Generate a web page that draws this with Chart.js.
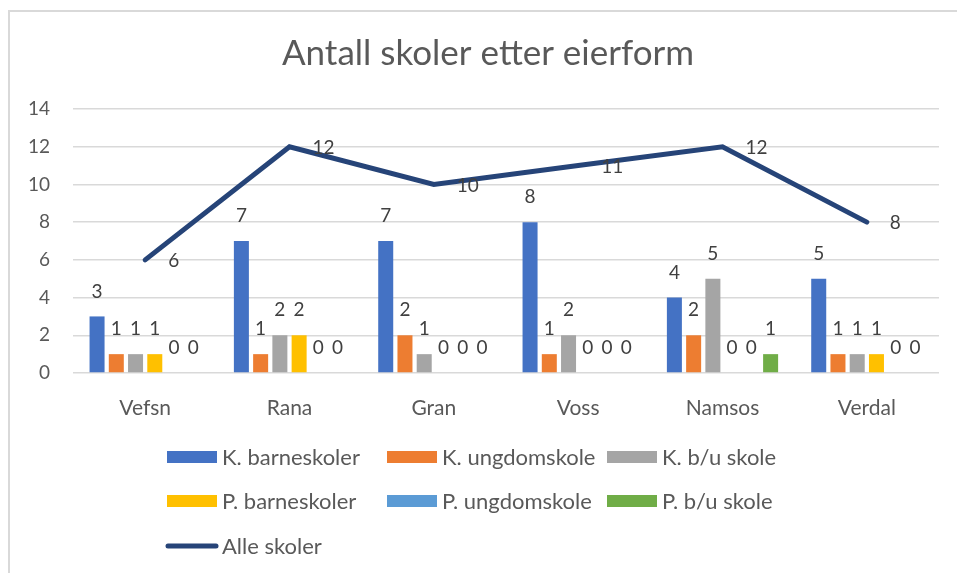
<!DOCTYPE html>
<html>
<head>
<meta charset="utf-8">
<script src="https://cdn.jsdelivr.net/npm/chart.js@4.4.0/dist/chart.umd.min.js"></script>
<style>
  body { margin: 0; background: #fff; overflow: hidden; }
  .frame {
    position: absolute; left: 8px; top: 10px; width: 1000px; height: 600px;
    border-top: 2px solid #d9d9d9; border-left: 2px solid #d9d9d9;
  }
  #wrap { position: absolute; left: 0; top: 0; width: 957px; height: 573px; }
</style>
</head>
<body>
<div class="frame"></div>
<div id="wrap"><canvas id="skoleChart"></canvas></div>
<script>
// Data
const kategorier = ['Vefsn', 'Rana', 'Gran', 'Voss', 'Namsos', 'Verdal'];
const kBarneskoler = [3, 7, 7, 8, 4, 5];
const kUngdomskole = [1, 1, 2, 1, 2, 1];
const kBuSkole = [1, 2, 1, 2, 5, 1];
const pBarneskoler = [1, 2, 0, 0, 0, 1];
const pUngdomskole = [0, 0, 0, 0, 0, 0];
const pBuSkole = [0, 0, 0, 0, 1, 0];
const alleSkoler = [6, 12, 10, 11, 12, 8];
const yTicks = [0, 2, 4, 6, 8, 10, 12, 14];

const FONT = 'Lato, "Open Sans", sans-serif';
const TEXT = '#595959';

function bar(label, data, color) {
    return {
        type: 'bar', label: label, data: data,
        backgroundColor: color, borderWidth: 0,
        categoryPercentage: 0.8, barPercentage: 0.78, order: 1
    };
}

// Labels above bars and to the right of line points
const valueLabels = {
    id: 'valueLabels',
    afterDatasetsDraw(chart) {
        const ctx = chart.ctx;
        ctx.save();
        ctx.font = '19px ' + FONT;
        ctx.fillStyle = '#404040';
        ctx.textBaseline = 'middle';
        chart.data.datasets.forEach((ds, i) => {
            const meta = chart.getDatasetMeta(i);
            meta.data.forEach((el, j) => {
                const v = ds.data[j];
                if (ds.type === 'line') {
                    ctx.textAlign = 'left';
                    ctx.fillText(v, el.x + 23, el.y + 1);
                } else {
                    ctx.textAlign = 'center';
                    ctx.fillText(v, el.x, el.y - 25);
                }
            });
        });
        ctx.restore();
    }
};

// Title and three-column legend like the Excel original
const titleAndLegend = {
    id: 'titleAndLegend',
    afterDraw(chart) {
        const ctx = chart.ctx;
        ctx.save();
        ctx.fillStyle = TEXT;
        ctx.font = '35px ' + FONT;
        ctx.textAlign = 'center';
        ctx.textBaseline = 'middle';
        ctx.fillText('Antall skoler etter eierform', 488, 54);

        ctx.font = '22px ' + FONT;
        ctx.textAlign = 'left';
        const colX = [167, 387, 607];
        const rowY = [457, 501, 546];
        chart.data.datasets.forEach((ds, i) => {
            const x = colX[i % 3];
            const y = rowY[Math.floor(i / 3)];
            if (ds.type === 'line') {
                ctx.strokeStyle = ds.borderColor;
                ctx.lineWidth = 5;
                ctx.lineCap = 'round';
                ctx.beginPath();
                ctx.moveTo(x + 1, y);
                ctx.lineTo(x + 49, y);
                ctx.stroke();
            } else {
                ctx.fillStyle = ds.backgroundColor;
                ctx.fillRect(x, y - 6, 50, 12);
            }
            ctx.fillStyle = TEXT;
            ctx.fillText(ds.label, x + 55, y + 1);
        });
        ctx.restore();
    }
};

new Chart(document.getElementById('skoleChart'), {
    data: {
        labels: kategorier,
        datasets: [
            bar('K. barneskoler', kBarneskoler, '#4472C4'),
            bar('K. ungdomskole', kUngdomskole, '#ED7D31'),
            bar('K. b/u skole', kBuSkole, '#A5A5A5'),
            bar('P. barneskoler', pBarneskoler, '#FFC000'),
            bar('P. ungdomskole', pUngdomskole, '#5B9BD5'),
            bar('P. b/u skole', pBuSkole, '#70AD47'),
            {
                type: 'line', label: 'Alle skoler', data: alleSkoler,
                borderColor: '#264478', borderWidth: 5,
                borderCapStyle: 'round', borderJoinStyle: 'miter',
                pointRadius: 0, fill: false, tension: 0, order: 0
            }
        ]
    },
    options: {
        responsive: true,
        maintainAspectRatio: false,
        animation: false,
        layout: { padding: { top: 109, right: 18, left: 0, bottom: 0 } },
        plugins: {
            legend: { display: false },
            title: { display: false },
            tooltip: { enabled: false }
        },
        scales: {
            x: {
                grid: { display: false },
                border: { display: false },
                ticks: { color: TEXT, font: { family: FONT, size: 21 }, padding: 15 },
                afterFit(scale) { scale.height = 200; }
            },
            y: {
                min: 0, max: 14,
                afterBuildTicks(scale) { scale.ticks = yTicks.map(v => ({ value: v })); },
                grid: { color: '#d9d9d9', lineWidth: 1.5, drawTicks: false },
                border: { display: false },
                ticks: { color: TEXT, font: { family: FONT, size: 19 }, padding: 23 },
                afterFit(scale) { scale.width = 73; }
            }
        }
    },
    plugins: [valueLabels, titleAndLegend]
});
</script>
</body>
</html>
